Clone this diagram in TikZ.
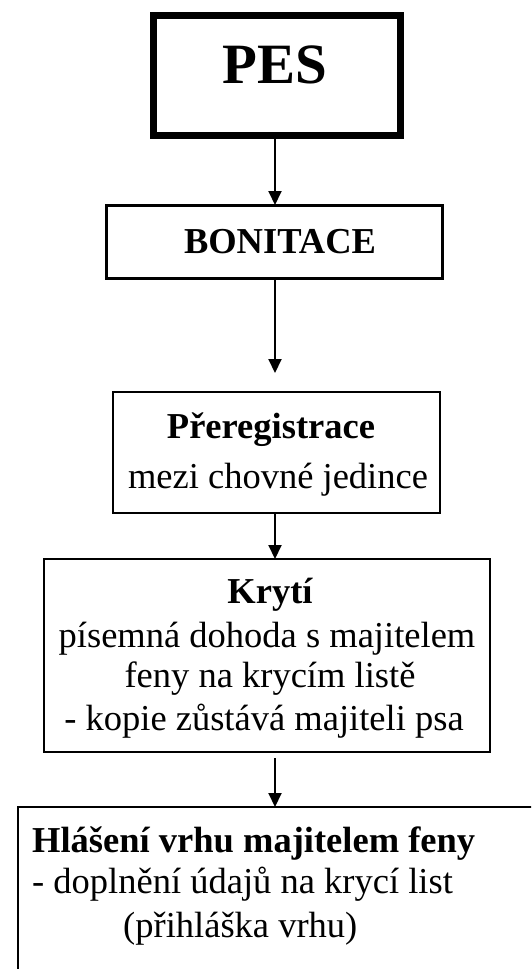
\documentclass[tikz,border=0pt]{standalone}
\usepackage{fontspec}
\setmainfont{Liberation Serif}
\usetikzlibrary{arrows.meta}
\begin{document}
\begin{tikzpicture}[x=1pt,y=-1pt,
  box/.style={draw,line width=1.8pt,inner sep=0pt,outer sep=0pt},
  conn/.style={line width=2pt,-{Triangle[width=13pt,length=14pt]}},
  txt/.style={anchor=base,inner sep=0pt,font=\fontsize{36.5}{42}\selectfont},
  btxt/.style={anchor=base,inner sep=0pt,font=\fontsize{36.5}{42}\selectfont\bfseries},
  ltxt/.style={anchor=base west,inner sep=0pt,font=\fontsize{36.5}{42}\selectfont}]
\clip (0,0) rectangle (531,969);
% boxes
\node[box,line width=7pt,minimum width=247pt,minimum height=120pt] (pes) at (276.5,75) {};
\node[box,line width=3pt,minimum width=336pt,minimum height=73pt] (bon) at (274,241.5) {};
\node[box,minimum width=327pt,minimum height=121pt] (pre) at (276.5,452.5) {};
\node[box,minimum width=446pt,minimum height=193pt] (kry) at (267,655.5) {};
\node[box,minimum width=542pt,minimum height=200pt] (hla) at (289,907) {};
% connectors
\coordinate (ax) at (275,0);
\draw[conn] (pes.south -| ax) -- (bon.north -| ax);
\draw[conn,shorten >=19pt] (bon.south -| ax) -- (pre.north -| ax);
\draw[conn] (pre.south -| ax) -- (kry.north -| ax);
\draw[conn,shorten <=6pt] (kry.south -| ax) -- (hla.north -| ax);
% texts
\node[anchor=base,inner sep=0pt,font=\fontsize{57}{64}\selectfont\bfseries] (tpes) at (275,83) {PES};
\node[btxt] (tbon) at (280,253) {BONITACE};
\node[btxt] (tpre1) at (271,438) {Přeregistrace};
\node[txt] (tpre2) at (278,488) {mezi chovné jedince};
\node[btxt] (tkry1) at (270,603) {Krytí};
\node[txt] (tkry2) at (267,647) {písemná dohoda s majitelem};
\node[txt] (tkry3) at (270,687) {feny na krycím listě};
\node[txt] (tkry4) at (264,730) {- kopie zůstává majiteli psa};
\node[ltxt,font=\fontsize{36.5}{42}\selectfont\bfseries] (thla1) at (32,852) {Hlášení vrhu majitelem feny};
\node[ltxt] (thla2) at (32,893) {- doplnění údajů na krycí list};
\node[ltxt] (thla3) at (123,937) {(přihláška vrhu)};
\end{tikzpicture}
\end{document}
